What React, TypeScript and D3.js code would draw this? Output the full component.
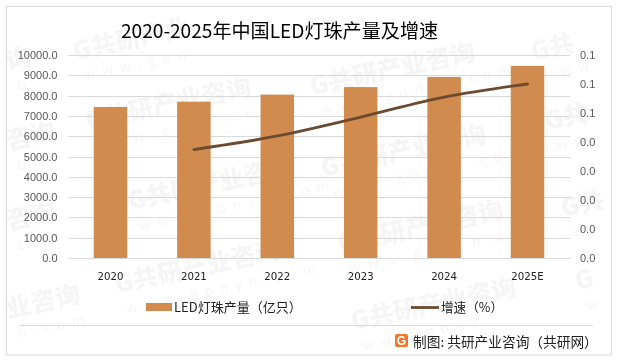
import React from "react";
import * as d3 from "d3";

const categories = ["2020", "2021", "2022", "2023", "2024", "2025E"];
const outputValues = [7440, 7700, 8050, 8420, 8920, 9460];
const growthValues = [null, 0.0374, 0.0421, 0.0486, 0.0555, 0.06];
const leftTicks = [0, 1000, 2000, 3000, 4000, 5000, 6000, 7000, 8000, 9000, 10000];
const rightTicks = [0, 0.01, 0.02, 0.03, 0.04, 0.05, 0.06, 0.07];
const marks: [number, number, string, string][] = [
  [75, 60, "G共研产业", "www.gon"],
  [88, 130, "G共研产业咨询", "www.gonyn.com"],
  [312, 95, "G共研产业咨询", "www.gonyn.com"],
  [533, 60, "G共", "www"],
  [547, 130, "G共", "ww"],
  [323, 177, "G共研产业咨询", "www.gonyn.com"],
  [117, 293, "G共研产业咨询", "www.gonyn.com"],
  [130, 210, "G共研产业咨询", "www.gonyn.com"],
  [340, 253, "G共研产业咨询", "www.gonyn.com"],
  [353, 330, "G共研产业咨询", "www.gony"],
  [563, 217, "G共", "ww"],
  [577, 290, "G", "w"],
  [8, 70, "询", "o"],
  [8, 150, "咨询", "om"],
  [8, 230, "咨询", "com"],
  [8, 318, "业咨询", "n.com"],
];
const CJK = "'Noto Sans CJK SC', 'Noto Sans', sans-serif";

export default function App() {
  const xc = d3.scalePoint().domain(categories).range([110.5, 527.5]);
  const y = d3.scaleLinear().domain([0, 10000]).range([258, 55]);
  const yr = d3.scaleLinear().domain([0, 0.07]).range([258, 55]);
  const line = d3.line<number | null>()
    .defined((d) => d !== null)
    .x((_, i) => xc(categories[i])!)
    .y((d) => yr(d as number))
    .curve(d3.curveCatmullRom.alpha(0.5));
  const bw = 33.5;
  return (
    <svg width={619} height={361} style={{ position: "absolute", left: 0, top: 0, background: "#fff" }}>
      <g fontFamily={CJK} fill="#000" opacity={0.04}>
        {marks.map(([mx, my, label, url], i) => (
          <g key={i} transform={`translate(${mx},${my}) rotate(-12)`}>
            <text fontSize={25} fontWeight={900}>{label}</text>
            <text x={6} y={22} fontSize={14} letterSpacing={7}>{url}</text>
          </g>
        ))}
      </g>
      <rect x={6.5} y={6.5} width={605} height={348.5} fill="none" stroke="#d9d9d9" strokeWidth={1} />
      {leftTicks.map((t) => (
        <line key={t} x1={68.7} x2={570} y1={Math.round(y(t)) + 0.5} y2={Math.round(y(t)) + 0.5} stroke="#d9d9d9" />
      ))}
      {categories.map((c, i) => (
        <rect key={c} x={xc(c)! - bw / 2} y={y(outputValues[i])} width={bw} height={258 - y(outputValues[i])} fill="#d18b4e" />
      ))}
      <path d={line(growthValues)!} fill="none" stroke="#6b4a2f" strokeWidth={2.8} strokeLinecap="round" />
      <g fontFamily="'Liberation Sans', sans-serif" fontSize={11} fill="#595959">
        {leftTicks.map((t) => (
          <text key={t} x={57.5} y={y(t) + 4} textAnchor="end">{t.toFixed(1)}</text>
        ))}
        {rightTicks.map((t) => (
          <text key={t} x={580} y={yr(t) + 4}>{t.toFixed(1)}</text>
        ))}
      </g>
      <g fontFamily="'DejaVu Sans', sans-serif" fontSize={10.2} fill="#222">
        {categories.map((c) => (
          <text key={c} x={xc(c)!} y={280} textAnchor="middle">{c}</text>
        ))}
      </g>
      <text x={121} y={38} fontFamily={CJK} fontSize={19.1} fill="#000">2020-2025年中国LED灯珠产量及增速</text>
      <rect x={146} y={303} width={26} height={8} fill="#d18b4e" />
      <text x={174} y={312} fontFamily={CJK} fontSize={13} fill="#222">LED灯珠产量（亿只）</text>
      <line x1={411} x2={439} y1={307.5} y2={307.5} stroke="#6b4a2f" strokeWidth={2.8} />
      <text x={441} y={312} fontFamily={CJK} fontSize={12.6} fill="#222">增速（%）</text>
      <line x1={19} x2={593} y1={325.5} y2={325.5} stroke="#d9d9d9" />
      <rect x={395} y={334} width={13} height={13} rx={2} fill="#f0762a" />
      <text x={401.5} y={345} textAnchor="middle" fontFamily="'Liberation Sans', sans-serif" fontWeight={700} fontSize={12} fill="#fff">G</text>
      <text x={413} y={347} fontFamily={CJK} fontSize={13.7} fill="#222">制图: 共研产业咨询（共研网）</text>
    </svg>
  );
}
